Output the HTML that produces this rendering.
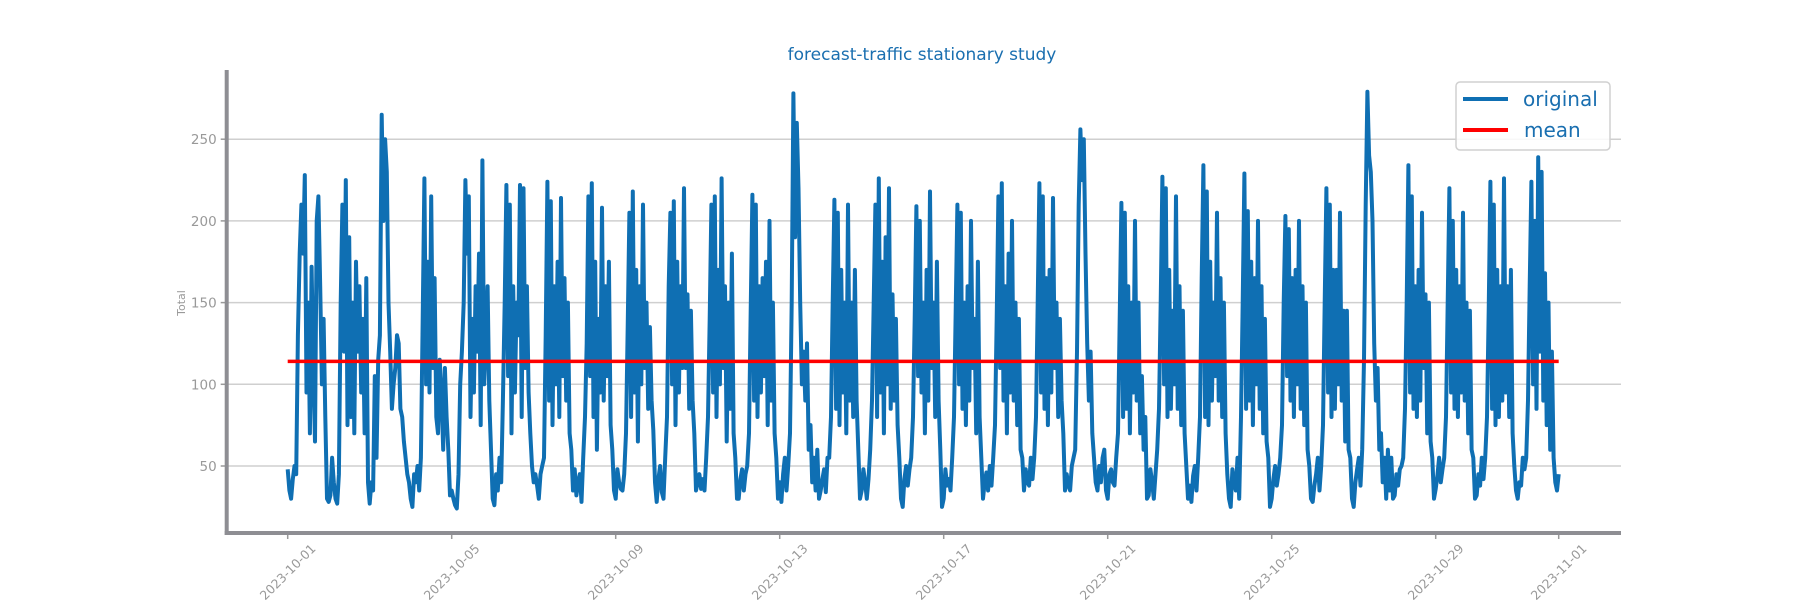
<!DOCTYPE html>
<html><head><meta charset="utf-8"><style>
html,body{margin:0;padding:0;background:#fff;}
svg{display:block;font-family:"DejaVu Sans","Liberation Sans",sans-serif;}
</style></head><body>
<svg id="chart" width="1800" height="600" viewBox="0 0 1800 600">
<text x="922" y="60" text-anchor="middle" font-size="17" fill="#1a6fb0">forecast-traffic stationary study</text>
<g id="grid"></g>
<g id="series"></g>
<g id="axes"></g>
<text x="0" y="0" transform="translate(185,303) rotate(-90)" text-anchor="middle" font-size="11" fill="#999">Total</text>
<g>
<rect x="1456" y="82" width="154" height="68" rx="4" fill="#fff" fill-opacity="0.85" stroke="#d0d0d0" stroke-width="1.5"/>
<line x1="1463" y1="99" x2="1508" y2="99" stroke="#0f6fb3" stroke-width="4"/>
<text x="1523" y="106" font-size="20" fill="#1a6fb0">original</text>
<line x1="1463" y1="130" x2="1508" y2="130" stroke="#ff0000" stroke-width="4"/>
<text x="1524" y="137" font-size="20" fill="#1a6fb0">mean</text>
</g>
</svg>
<script>
const yTicks=[50,100,150,200,250];
const xTickLabels=["2023-10-01","2023-10-05","2023-10-09","2023-10-13","2023-10-17","2023-10-21","2023-10-25","2023-10-29","2023-11-01"];
const xTickDays=[0,4,8,12,16,20,24,28,31];
const meanValue=114;
const dailyRows=[
[48,35,30,42,50,45,130,180,210,180,228,95,150,70,172,110,65,200,215,160,100,140,80,30],
[28,32,55,40,30,27,45,150,210,120,225,75,190,80,150,70,175,120,160,95,140,70,165,40],
[27,40,35,105,55,115,130,265,200,250,230,150,120,85,100,110,130,125,85,80,65,55,45,40],
[30,25,45,40,50,35,55,140,226,100,175,95,215,110,165,80,70,115,95,60,110,80,60,32],
[35,30,26,24,45,100,120,150,225,180,215,80,140,95,160,120,180,75,237,100,125,160,90,60],
[30,26,45,35,55,40,90,150,222,105,210,70,160,95,150,130,222,80,220,110,160,95,70,50],
[40,45,38,30,45,50,55,130,224,90,212,75,160,100,175,80,214,105,165,90,150,70,60,35],
[48,32,40,45,28,55,80,125,215,105,223,80,175,60,140,95,208,90,160,105,175,75,60,35],
[30,48,40,36,35,45,70,135,205,80,218,95,170,65,160,100,210,110,150,85,135,90,72,40],
[28,42,50,34,30,55,80,160,205,100,212,75,175,95,160,110,220,110,155,85,145,90,70,35],
[40,45,36,42,35,55,80,140,210,95,215,80,170,100,226,110,160,65,150,85,180,70,55,30],
[30,42,48,35,45,50,70,145,216,90,210,80,160,95,165,105,175,75,200,90,150,70,55,30],
[40,28,45,55,35,50,70,150,278,190,260,220,150,100,120,90,125,60,75,40,55,35,60,30],
[35,42,48,34,55,55,80,150,213,85,205,75,170,95,150,70,210,90,150,80,170,90,60,30],
[35,48,40,30,42,60,90,150,210,80,226,95,175,70,190,100,220,85,155,90,140,75,55,30],
[25,42,50,38,48,55,80,140,209,105,200,95,150,70,170,90,218,110,150,80,175,90,60,25],
[30,48,38,42,35,55,80,145,210,100,205,85,150,75,160,90,200,110,140,70,175,80,55,30],
[40,46,35,50,38,55,75,140,215,110,223,90,160,70,180,95,200,90,150,75,140,60,55,35],
[48,40,38,55,42,55,80,150,223,95,215,85,165,75,170,95,214,110,150,80,140,90,70,35],
[45,38,35,50,55,60,120,210,256,225,250,180,125,90,120,70,55,40,35,50,40,55,60,35],
[30,45,48,40,38,55,70,140,211,80,205,85,160,70,150,95,200,90,150,70,105,60,80,30],
[32,48,40,30,45,60,85,150,227,100,220,80,170,85,145,100,215,85,160,75,145,70,50,30],
[38,28,44,50,35,55,80,165,234,80,218,75,175,90,150,105,205,90,165,80,150,70,45,30],
[25,48,40,35,55,30,80,150,229,85,206,90,175,75,165,100,200,85,160,70,140,65,55,25],
[30,42,50,38,45,55,75,150,203,105,195,90,165,80,170,100,200,85,160,75,150,60,50,30],
[28,38,45,55,35,50,75,150,220,95,210,80,170,85,170,100,205,90,145,65,145,60,55,30],
[25,40,48,55,38,60,115,210,279,240,230,200,125,90,110,60,70,40,55,30,60,35,55,30],
[32,45,38,48,50,55,85,150,234,95,215,85,160,80,170,90,205,110,155,70,150,65,55,30],
[36,44,55,40,48,55,80,150,220,95,200,85,170,80,160,95,205,90,150,70,145,60,55,30],
[32,45,38,55,42,55,80,145,224,85,210,75,170,80,160,90,226,95,160,80,170,70,50,35],
[30,40,38,55,48,55,90,160,224,100,200,85,239,120,230,90,168,75,150,60,120,55,40,35],
[45]
];
const values=[].concat(...dailyRows);

const X0=287.7, PXDAY=41, Y50=466, PXUNIT=1.634;
function xs(day){return X0+day*PXDAY;}
function ys(v){return Y50-(v-50)*PXUNIT;}
const ns="http://www.w3.org/2000/svg";
function mk(tag,attrs,parent){const e=document.createElementNS(ns,tag);for(const k in attrs)e.setAttribute(k,attrs[k]);parent.appendChild(e);return e;}
const grid=document.getElementById('grid'),axes=document.getElementById('axes'),series=document.getElementById('series');
const PLOT_L=226.7, PLOT_R=1621, PLOT_T=70, PLOT_B=533;

yTicks.forEach(t=>{
  const y=ys(t);
  const g=mk('line',{x1:PLOT_L,x2:PLOT_R,y1:y,y2:y,stroke:'#cfcfcf','stroke-width':1.5},grid);
  
  
  const tk=mk('line',{x1:PLOT_L-6,x2:PLOT_L,y1:y,y2:y,stroke:'#999','stroke-width':1.5},axes);
  
  
  const tx=mk('text',{x:PLOT_L-10,y:y+5,'text-anchor':'end','font-size':13.5,fill:'#999'},axes);
  tx.textContent=t;
  
  
});
xTickLabels.forEach((lab,i)=>{
  const x=xs(xTickDays[i]);
  const tk=mk('line',{x1:x,x2:x,y1:PLOT_B,y2:PLOT_B+6,stroke:'#999','stroke-width':1.5},axes);
  
  
  const tx=mk('text',{x:0,y:0,dy:'0.35em','text-anchor':'middle','font-size':12.5,fill:'#999',transform:'translate('+x+',572) rotate(-45)'},axes);
  tx.textContent=lab;
  
  
});
const ls=mk('line',{x1:PLOT_L,x2:PLOT_L,y1:PLOT_T,y2:PLOT_B+2,stroke:'#8e8e93','stroke-width':4},axes);


const bs=mk('line',{x1:PLOT_L-2,x2:PLOT_R,y1:PLOT_B,y2:PLOT_B,stroke:'#8e8e93','stroke-width':4},axes);



let d='';
values.forEach((v,i)=>{d+=(i?'L':'M')+xs(i/24).toFixed(1)+' '+ys(v).toFixed(1);});
const p=mk('path',{d:d,fill:'none',stroke:'#0f6fb3','stroke-width':4,'stroke-linejoin':'round'},series);


const m=mk('line',{x1:xs(0),x2:xs((values.length-1)/24),y1:ys(meanValue),y2:ys(meanValue),stroke:'#ff0000','stroke-width':3.5},series);


</script>
</body></html>
